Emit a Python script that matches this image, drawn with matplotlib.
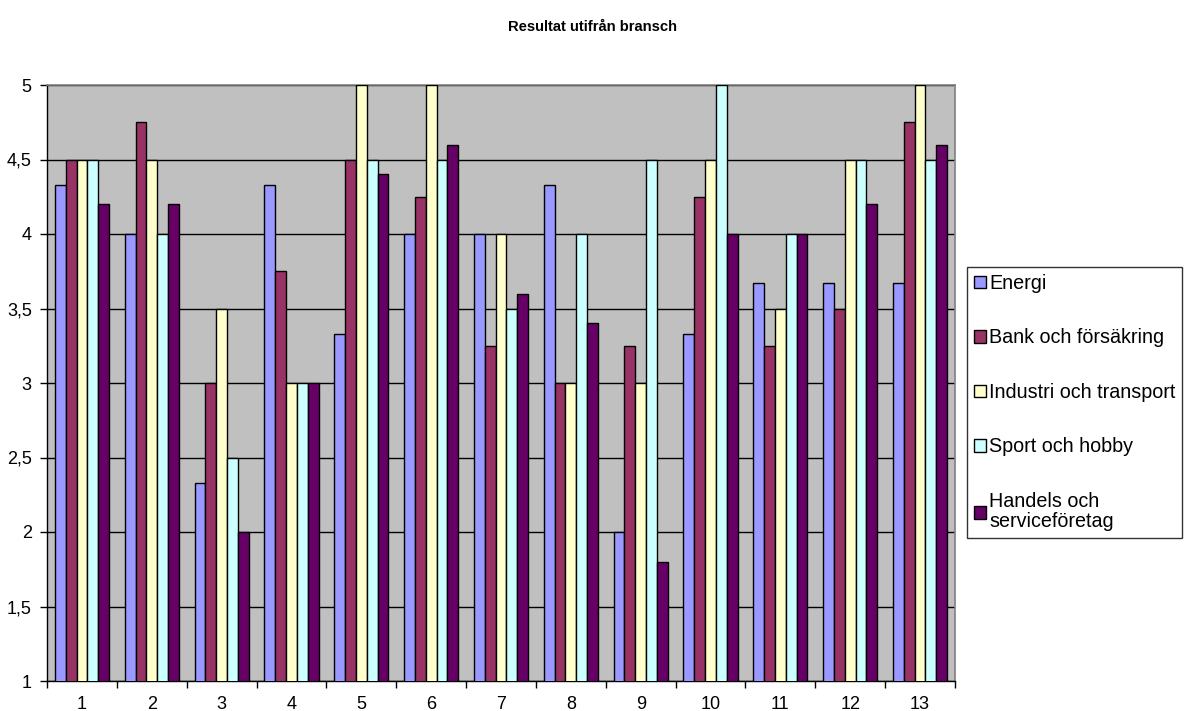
import matplotlib
matplotlib.use("Agg")
import matplotlib.pyplot as plt
import numpy as np

plt.rcParams['font.family'] = ['Liberation Sans', 'DejaVu Sans']

categories = [str(i) for i in range(1, 14)]
series_names = ["Energi", "Bank och försäkring", "Industri och transport",
                "Sport och hobby", "Handels och\nserviceföretag"]
energi   = [4.33, 4.0, 2.33, 4.33, 3.33, 4.0, 4.0, 4.33, 2.0, 3.33, 3.67, 3.67, 3.67]
bank     = [4.5, 4.75, 3.0, 3.75, 4.5, 4.25, 3.25, 3.0, 3.25, 4.25, 3.25, 3.5, 4.75]
industri = [4.5, 4.5, 3.5, 3.0, 5.0, 5.0, 4.0, 3.0, 3.0, 4.5, 3.5, 4.5, 5.0]
sport    = [4.5, 4.0, 2.5, 3.0, 4.5, 4.5, 3.5, 4.0, 4.5, 5.0, 4.0, 4.5, 4.5]
handels  = [4.2, 4.2, 2.0, 3.0, 4.4, 4.6, 3.6, 3.4, 1.8, 4.0, 4.0, 4.2, 4.6]
colors = ["#9999FF", "#993366", "#FFFFCC", "#CCFFFF", "#660066"]
yticks = [1, 1.5, 2, 2.5, 3, 3.5, 4, 4.5, 5]
ytick_labels = ["1", "1,5", "2", "2,5", "3", "3,5", "4", "4,5", "5"]

W, H = 1185, 711
fig = plt.figure(figsize=(W / 100, H / 100), dpi=100)
ax = fig.add_axes([47 / W, 1 - 681 / H, (955 - 47) / W, (681 - 85) / H])
ax.set_facecolor("#C0C0C0")

x = np.arange(1, 14)
bw = 0.155
all_series = [energi, bank, industri, sport, handels]
handles = []
for i, (vals, c, name) in enumerate(zip(all_series, colors, series_names)):
    b = ax.bar(x + (i - 2) * bw, vals, width=bw, color=c, edgecolor="black",
               linewidth=1.0, label=name, zorder=3)
    handles.append(b)

ax.set_xlim(0.5, 13.5)
ax.set_ylim(1, 5)
ax.set_yticks(yticks)
ax.set_yticklabels(ytick_labels, fontsize=13)
ax.yaxis.grid(True, color="black", linewidth=1.0, zorder=1)
ax.set_axisbelow(True)

ax.set_xticks(x)
ax.set_xticklabels(categories, fontsize=13)
ax.set_xticks(np.arange(0.5, 14, 1), minor=True)
ax.tick_params(axis="x", which="major", length=0, pad=11)
ax.tick_params(axis="x", which="minor", length=5, direction="out", width=1)
ax.tick_params(axis="y", length=5, direction="out", width=1, pad=6)

for s in ["top", "right"]:
    ax.spines[s].set_color("#808080")
    ax.spines[s].set_linewidth(1.2)
for s in ["left", "bottom"]:
    ax.spines[s].set_color("black")
    ax.spines[s].set_linewidth(1.0)

fig.text(593 / W, 1 - 27 / H, "Resultat utifrån bransch", ha="center", va="center",
         fontsize=10.6, fontweight="bold")

leg = fig.legend(handles=handles, labels=series_names, loc="upper left",
                 bbox_to_anchor=(967 / W, 1 - 267 / H), fontsize=14.2,
                 frameon=True, fancybox=False, edgecolor="black",
                 labelspacing=1.8, handlelength=0.62, handleheight=0.62,
                 handletextpad=0.15, borderpad=0.35, borderaxespad=0)
leg.get_frame().set_linewidth(1.0)
for t in leg.get_texts():
    t.set_linespacing(1.1)

fig.savefig("out.png", dpi=100, facecolor="white")
